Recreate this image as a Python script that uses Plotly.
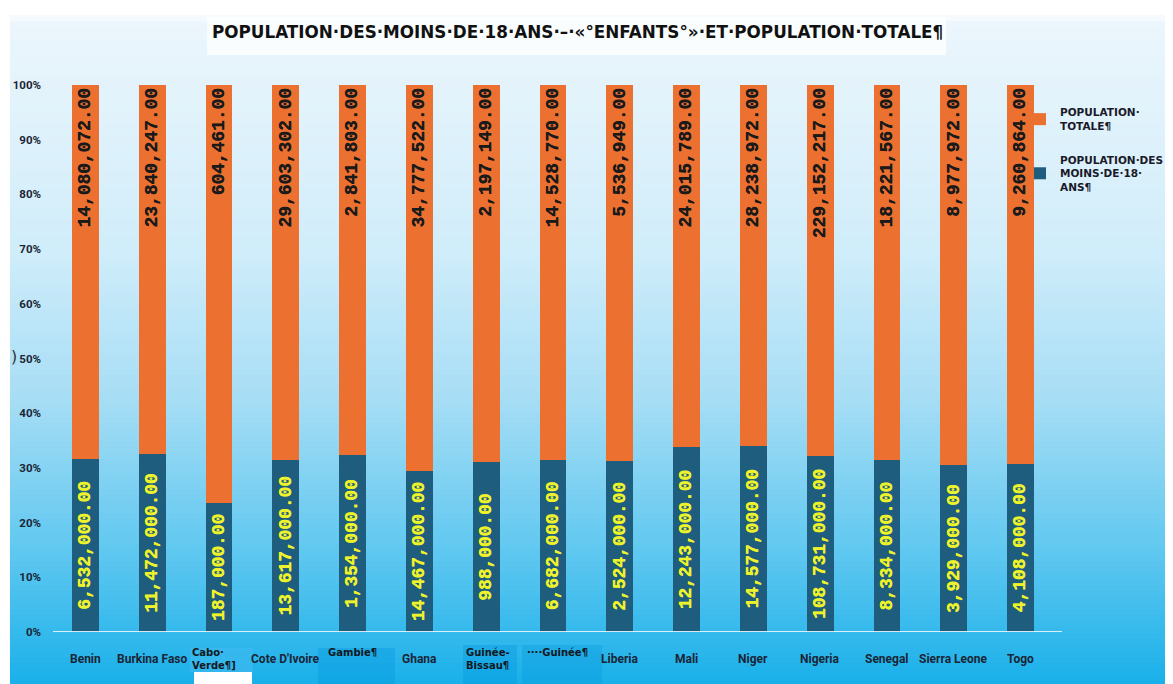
import plotly.graph_objects as go

pays = ["Benin", "Burkina Faso", "Cabo Verde", "Cote D'Ivoire", "Gambie", "Ghana",
        "Guinée-Bissau", "Guinée", "Liberia", "Mali", "Niger", "Nigeria", "Senegal",
        "Sierra Leone", "Togo"]
etiquettes = ["Benin", "Burkina Faso", "Cabo·<br>Verde¶]", "Cote D'Ivoire", "Gambie¶", "Ghana",
              "Guinée-<br>Bissau¶", "····Guinée¶", "Liberia", "Mali", "Niger", "Nigeria", "Senegal",
              "Sierra Leone", "Togo"]
moins_18 = [6532000, 11472000, 187000, 13617000, 1354000, 14467000, 988000, 6682000,
            2524000, 12243000, 14577000, 108731000, 8334000, 3929000, 4108000]
pop_totale = [14080072, 23840247, 604461, 29603302, 2841803, 34777522, 2197149, 14528770,
              5536949, 24015789, 28238972, 229152217, 18221567, 8977972, 9260864]
y_ticks = [0, 10, 20, 30, 40, 50, 60, 70, 80, 90, 100]
y_labels = ["0%", "10%", "20%", "30%", "40%", "50%", "60%", "70%", "80%", "90%", "100%"]

titre = "POPULATION·DES·MOINS·DE·18·ANS·–·«°ENFANTS°»·ET·POPULATION·TOTALE¶"

# la page ajoute une marge de 8 px : la figure est un peu plus petite que la fenêtre
OFF = 8
W, H = 1173 - OFF, 684 - OFF
L, T = 52 - OFF, 85 - OFF
pw, ph = 1002, 547
R, B = W - L - pw, H - T - ph


def px_x(x):
    return (x - OFF - L) / pw


def px_y(y):
    return (T + ph - (y - OFF)) / ph


fig = go.Figure()
fig.add_trace(go.Bar(
    x=pays, y=moins_18, name="POPULATION·DES<br>MOINS·DE·18·<br>ANS¶",
    legendgroup="a", legendrank=2,
    marker=dict(color="#1e5d7d", line=dict(width=0)),
    text=moins_18, texttemplate="%{text:,.2f}", textposition="inside",
    insidetextanchor="middle", textangle=-90,
    textfont=dict(family="Liberation Mono", size=19, color="#eef22a", weight="bold",
                  shadow="0.3px 0 0 #eef22a"),
))
fig.add_trace(go.Bar(
    x=pays, y=pop_totale, name="POPULATION·<br>TOTALE¶",
    legendgroup="b", legendrank=1,
    marker=dict(color="#ec7030", line=dict(width=0)),
    text=pop_totale, texttemplate="%{text:,.2f}", textposition="inside",
    insidetextanchor="end", textangle=-90,
    textfont=dict(family="Liberation Mono", size=19, color="#1a1a1a", weight="bold",
                  shadow="0.3px 0 0 #1a1a1a"),
))

# fond en dégradé
stops = [(0, (255, 255, 255)), (15, (255, 255, 255)), (20, (236, 246, 252)),
         (250, (208, 237, 250)), (400, (166, 221, 245)), (550, (96, 200, 240)),
         (684, (26, 176, 234))]


def couleur(py):
    for (a, ca), (b, cb) in zip(stops[:-1], stops[1:]):
        if a <= py <= b:
            t = (py - a) / (b - a) if b > a else 0
            c = [round(ca[i] + (cb[i] - ca[i]) * t) for i in range(3)]
            return "rgb(%d,%d,%d)" % tuple(c)
    return "rgb(26,176,234)"


shapes = []
step = 6
for y0 in range(15, 684, step):
    shapes.append(dict(type="rect", xref="paper", yref="paper", layer="below",
                       x0=px_x(10), x1=px_x(1180), y0=px_y(min(y0 + step + 1, 690)), y1=px_y(y0),
                       fillcolor=couleur(y0 + step / 2), line=dict(width=0)))
# cadre du titre
shapes.append(dict(type="rect", xref="paper", yref="paper", layer="below",
                   x0=px_x(207), x1=px_x(946), y0=px_y(55), y1=px_y(17),
                   fillcolor="rgba(255,255,255,0.75)", line=dict(width=0)))
# cadres des étiquettes particulières
for x0, x1, y0, y1, c in [(190, 253, 648, 672, "rgba(60,185,240,0.7)"),
                          (194, 252, 672, 690, "white"),
                          (318, 395, 648, 690, "rgba(0,150,220,0.35)"),
                          (463, 517, 645, 690, "rgba(0,150,220,0.35)"),
                          (522, 602, 645, 690, "rgba(0,150,220,0.3)")]:
    shapes.append(dict(type="rect", xref="paper", yref="paper", layer="below",
                       x0=px_x(x0), x1=px_x(x1), y0=px_y(y1), y1=px_y(y0),
                       fillcolor=c, line=dict(width=0)))
# ligne de base
shapes.append(dict(type="line", xref="paper", yref="y", x0=px_x(53), x1=px_x(1062), y0=0, y1=0,
                   line=dict(color="rgba(235,245,252,0.9)", width=2)))

annotations = [dict(text="<b>" + titre + "</b>", xref="paper", yref="paper",
                    x=px_x(577), y=px_y(32), xanchor="center", yanchor="middle", showarrow=False,
                    font=dict(family="DejaVu Sans", size=16.8, color="#111111")),
               dict(text=")", xref="paper", yref="paper", x=px_x(9), y=px_y(356),
                    xanchor="left", yanchor="middle",
                    showarrow=False, font=dict(family="DejaVu Sans", size=16, color="#333333"))]

speciaux = {"Cabo Verde": -5, "Gambie": 0, "Guinée-Bissau": 2, "Guinée": 4}
for p, e in zip(pays, etiquettes):
    if p in speciaux:
        annotations.append(dict(text="<b>" + e + "</b>", x=p, y=0, yref="y", yanchor="top",
                                yshift=-13, xshift=speciaux[p], showarrow=False, align="left",
                                font=dict(family="DejaVu Sans", size=10, color="#111820")))
    else:
        annotations.append(dict(text="<b>" + e + "</b>", x=p, y=0, yref="y", yanchor="top",
                                yshift=-18, showarrow=False,
                                font=dict(family="Roboto", size=12, color="#1a2535")))

fig.update_layout(
    width=W, height=H,
    barmode="stack", barnorm="percent", bargap=0.6,
    margin=dict(l=L, r=R, t=T, b=B, autoexpand=False),
    paper_bgcolor="white", plot_bgcolor="rgba(0,0,0,0)",
    shapes=shapes, annotations=annotations,
    showlegend=True,
    legend=dict(xref="paper", yref="paper", x=px_x(1020), y=px_y(99),
                xanchor="left", yanchor="top", traceorder="grouped",
                bgcolor="rgba(255,255,255,0)", tracegroupgap=17, itemwidth=30,
                font=dict(family="DejaVu Sans", size=10.5, color="#1a1a2a", weight="bold")),
    xaxis=dict(showticklabels=False, showgrid=False, zeroline=False, showline=False,
               automargin=False),
    yaxis=dict(range=[0, 100], tickvals=y_ticks, ticktext=y_labels, showgrid=False,
               zeroline=False, showline=False, ticks="", automargin=False, ticklabelstandoff=10,
               tickfont=dict(family="Roboto", size=11.5, color="#1a2535", weight="bold")),
)

fig.write_html("out.html")
